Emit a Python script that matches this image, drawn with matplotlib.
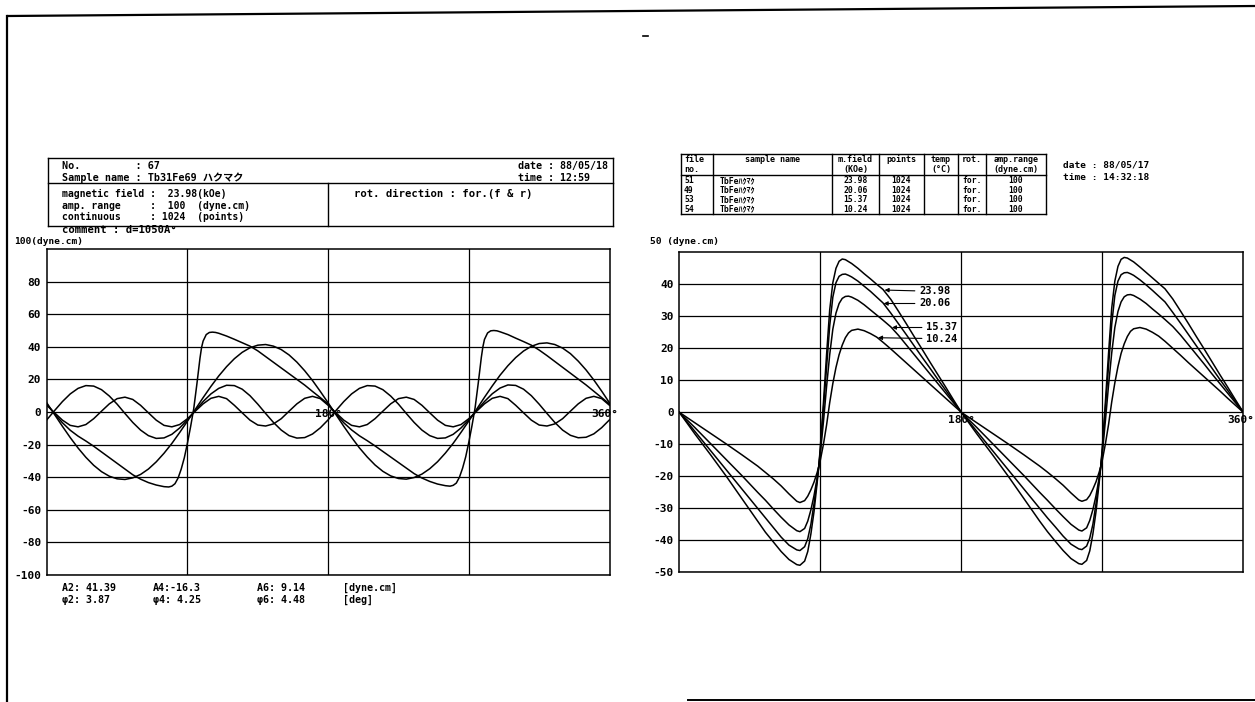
import numpy as np
import matplotlib
matplotlib.use("Agg")
import matplotlib.pyplot as plt
from matplotlib.lines import Line2D

W, H = 1255, 702
plt.rcParams["font.family"] = ["DejaVu Sans Mono", "Noto Sans CJK JP"]
plt.rcParams["font.weight"] = "bold"

# ---------------- left sheet: torque curve and its harmonics (dyne.cm) ----------------
deg5 = np.arange(0, 361, 5)
a2 = [5.6, -1.6, -8.8, -15.7, -22.1, -27.8, -32.7, -36.6, -39.4, -41.0, -41.4, -40.4,
      -38.3, -35.0, -30.6, -25.3, -19.3, -12.6, -5.6, 1.6, 8.8, 15.7, 22.1, 27.8,
      32.7, 36.6, 39.4, 41.0, 41.4, 40.4, 38.3, 35.0, 30.6, 25.3, 19.3, 12.6,
      5.6, -1.6, -8.8, -15.6, -22.0, -27.6, -32.5, -36.4, -39.2, -40.8, -41.2, -40.2,
      -38.1, -34.8, -30.5, -25.2, -19.2, -12.5, -5.5, 1.7, 9.0, 16.0, 22.6, 28.4,
      33.4, 37.4, 40.3, 42.0, 42.4, 41.4, 39.2, 35.8, 31.2, 25.8, 19.6, 12.8, 5.6]
a4 = [-4.8, 0.9, 6.4, 11.1, 14.5, 16.2, 15.9, 13.7, 9.8, 4.8, -0.9, -6.4, -11.1, -14.5,
      -16.2, -15.9, -13.7, -9.8,
      -4.8, 0.9, 6.4, 11.1, 14.5, 16.4, 16.2, 14.0, 10.0, 4.8, -0.9, -6.4, -11.1, -14.5,
      -16.0, -15.7, -13.5, -9.7,
      -4.8, 0.9, 6.4, 11.1, 14.5, 16.2, 15.9, 13.7, 9.8, 4.8, -0.9, -6.4, -11.1, -14.5,
      -16.2, -15.9, -13.7, -9.8,
      -4.8, 0.9, 6.4, 11.2, 14.7, 16.6, 16.3, 14.0, 10.0, 4.8, -0.9, -6.4, -11.1, -14.3,
      -15.8, -15.5, -13.4, -9.6, -4.8]
a6 = [4.1, -0.5, -5.0, -8.2, -9.1, -7.7, -4.1, 0.5, 5.0, 8.2, 9.1, 7.7,
      4.1, -0.5, -5.0, -8.2, -9.1, -7.7, -4.1, 0.5, 5.0, 8.4, 9.6, 8.2,
      4.1, -0.5, -5.0, -8.0, -8.6, -7.3, -4.1, 0.5, 5.0, 8.4, 9.6, 8.2,
      4.1, -0.5, -5.0, -8.2, -9.1, -7.7, -4.1, 0.5, 5.0, 8.2, 9.1, 7.7,
      4.1, -0.5, -5.0, -8.2, -9.1, -7.7, -4.1, 0.5, 5.0, 8.4, 9.6, 8.2,
      4.1, -0.5, -5.0, -8.0, -8.6, -7.3, -4.1, 0.5, 5.0, 8.4, 9.6, 8.2, 4.1]
tot_deg = [0, 5, 10, 15, 20, 25, 30, 35, 40, 45, 50, 55, 60, 65, 70, 75, 78, 80, 82, 84,
           86, 88, 90, 92, 94, 96, 98, 99, 100, 102, 104, 106, 108, 110, 115, 120, 125,
           130, 135, 140, 145, 150, 155, 160, 165, 170, 175, 180,
           185, 190, 195, 200, 205, 210, 215, 220, 225, 230, 235, 240, 245, 250, 255, 258,
           260, 262, 264, 266, 268, 270, 272, 274, 276, 278, 279, 280, 282, 284, 286, 288,
           290, 295, 300, 305, 310, 315, 320, 325, 330, 335, 340, 345, 350, 355, 360]
tot = [4.9, -1.2, -6.6, -11.2, -14.8, -17.8, -21.0, -24.5, -28.0, -31.5, -35.0, -38.5,
       -41.2, -43.3, -44.8, -45.8, -46.0, -45.5, -44.0, -40.5, -35.0, -28.0, -19.0, -9.0,
       2.0, 17.0, 33.0, 39.5, 43.5, 47.5, 48.8, 49.0, 48.8, 48.3, 46.6, 44.6, 42.5, 40.4,
       37.5, 34.0, 30.5, 27.0, 23.5, 20.0, 16.5, 12.6, 8.8, 4.9,
       -1.2, -6.6, -11.0, -14.6, -17.6, -20.8, -24.2, -27.6, -31.0, -34.4, -37.8, -40.5,
       -42.6, -44.2, -45.2, -45.5, -45.0, -43.6, -40.0, -34.5, -27.5, -18.5, -8.5, 2.5,
       17.5, 33.5, 40.0, 44.5, 48.5, 49.8, 50.0, 49.8, 49.2, 47.5, 45.3, 43.2, 41.0, 38.0,
       34.6, 31.0, 27.4, 23.8, 20.2, 16.6, 12.7, 8.8, 4.9]

# ---------------- right sheet: torque curves at four fields ----------------
rdeg_half = [0, 10, 20, 30, 40, 50, 55, 60, 65, 70, 75, 77, 80, 82, 84, 86, 88, 89, 90,
             92, 94, 96, 98, 100, 102, 104, 106, 108, 110, 114, 118, 122, 126, 130, 135,
             140, 145, 150, 155, 160, 165, 170, 175, 180]
rdeg = rdeg_half + [d + 180 for d in rdeg_half[1:]]
fields = ["23.98", "20.06", "15.37", "10.24"]
t2398 = [0, -6.8, -13.3, -20.0, -27.0, -34.0, -37.5, -40.5, -43.5, -46.0, -47.6, -47.8,
         -46.5, -43.5, -38.0, -31.0, -22.0, -17.0, -11.0, 3.0, 18.0, 32.0, 40.5, 45.0,
         47.2, 47.9, 47.7, 47.1, 46.5, 45.0, 43.3, 41.7, 40.0, 38.4, 35.3, 31.5, 27.6,
         23.6, 19.7, 15.7, 11.8, 7.9, 3.9, 0,
         -6.8, -13.3, -20.0, -27.0, -34.0, -37.3, -40.3, -43.2, -45.7, -47.3, -47.5,
         -46.3, -43.3, -38.0, -31.0, -22.0, -17.0, -11.0, 3.5, 18.5, 32.5, 41.0, 45.6,
         47.8, 48.4, 48.2, 47.6, 47.0, 45.4, 43.7, 42.0, 40.3, 38.6, 35.4, 31.6, 27.7,
         23.7, 19.8, 15.8, 11.8, 7.9, 3.9, 0]
t2006 = [0, -6.0, -12.0, -18.0, -24.0, -30.0, -33.0, -36.0, -39.0, -41.5, -43.0, -43.2,
         -42.0, -39.5, -35.0, -28.5, -21.0, -17.0, -12.0, 1.0, 14.0, 27.0, 36.0, 40.5,
         42.5, 43.1, 43.2, 42.8, 42.3, 41.0, 39.4, 37.8, 36.0, 34.2, 31.0, 27.6, 24.2,
         20.7, 17.2, 13.8, 10.3, 6.9, 3.4, 0,
         -6.0, -12.0, -18.0, -24.0, -30.0, -33.0, -35.8, -38.7, -41.2, -42.7, -42.9,
         -41.8, -39.3, -35.0, -28.5, -21.0, -17.0, -12.0, 1.5, 14.5, 27.5, 36.5, 41.0,
         43.0, 43.6, 43.7, 43.3, 42.8, 41.4, 39.8, 38.1, 36.3, 34.5, 31.2, 27.8, 24.3,
         20.8, 17.3, 13.8, 10.3, 6.9, 3.4, 0]
t1537 = [0, -4.8, -9.8, -14.8, -19.8, -25.0, -27.5, -30.2, -32.8, -35.2, -37.0, -37.3,
         -36.3, -34.0, -30.5, -26.0, -20.5, -17.0, -13.0, -3.0, 8.0, 18.0, 26.0, 31.0,
         34.0, 35.6, 36.2, 36.3, 36.0, 35.0, 33.6, 32.0, 30.4, 28.8, 26.7, 24.0, 21.0,
         18.0, 15.0, 12.0, 9.0, 6.0, 3.0, 0,
         -4.8, -9.8, -14.8, -19.8, -25.0, -27.5, -30.1, -32.6, -35.0, -36.8, -37.1,
         -36.1, -33.8, -30.4, -26.0, -20.5, -17.0, -13.0, -2.5, 8.5, 18.5, 26.5, 31.5,
         34.5, 36.1, 36.7, 36.8, 36.5, 35.4, 34.0, 32.3, 30.7, 29.0, 26.8, 24.1, 21.1,
         18.1, 15.1, 12.0, 9.0, 6.0, 3.0, 0]
t1024 = [0, -3.3, -6.6, -9.9, -13.3, -16.8, -18.8, -20.8, -23.0, -25.5, -27.8, -28.2,
         -27.6, -26.2, -24.2, -21.8, -18.8, -17.0, -15.0, -10.0, -4.0, 3.0, 9.0, 14.0,
         18.0, 21.0, 23.3, 24.8, 25.6, 26.0, 25.5, 24.6, 23.5, 21.9, 19.8, 17.6, 15.4,
         13.2, 11.0, 8.8, 6.6, 4.4, 2.2, 0,
         -3.3, -6.6, -9.9, -13.3, -16.8, -18.7, -20.7, -22.8, -25.2, -27.4, -27.8,
         -27.3, -26.0, -24.0, -21.7, -18.7, -17.0, -15.0, -9.8, -3.8, 3.2, 9.2, 14.3,
         18.4, 21.4, 23.7, 25.3, 26.1, 26.5, 26.0, 25.0, 23.8, 22.2, 20.0, 17.8, 15.5,
         13.3, 11.1, 8.9, 6.7, 4.4, 2.2, 0]
curves = [t2398, t2006, t1537, t1024]
label_pts = [(131, 38.2), (130.4, 34.0), (135.7, 26.5), (126.8, 23.3)]
label_txt = [(153, 37.8), (153, 34.0), (157.5, 26.5), (157.5, 23.0)]

# right sheet table rows
t_file = ["51", "49", "53", "54"]
t_name = ["TbFeﾊｸﾏｸ"] * 4
t_pts = ["1024"] * 4
t_rot = ["for."] * 4
t_amp = ["100"] * 4


def P(x, y):
    return x / W, 1 - y / H


def hline(fig, x0, x1, y, lw=1.0):
    fig.add_artist(Line2D([x0 / W, x1 / W], [1 - y / H, 1 - y / H],
                          transform=fig.transFigure, color="k", lw=lw))


def vline(fig, x, y0, y1, lw=1.0):
    fig.add_artist(Line2D([x / W, x / W], [1 - y0 / H, 1 - y1 / H],
                          transform=fig.transFigure, color="k", lw=lw))


def style(ax, ymin, ymax, ystep):
    ax.set_xlim(0, 360); ax.set_ylim(ymin, ymax)
    ax.set_xticks([90, 180, 270]); ax.set_xticklabels([])
    yt = np.arange(ymin, ymax, ystep)
    ax.set_yticks(yt); ax.set_yticklabels([str(int(v)) for v in yt], fontsize=8)
    ax.tick_params(length=0, pad=4)
    ax.grid(True, color="k", lw=0.9)
    for s in ax.spines.values():
        s.set_linewidth(1.1)


fig = plt.figure(figsize=(W / 100, H / 100), dpi=100)

# page frame of the scanned sheet
fig.add_artist(Line2D([8 / W, 1.0], [1 - 16 / H, 1 - 6 / H], transform=fig.transFigure, color="k", lw=1.6))
vline(fig, 7, 16, 702, lw=1.6)
hline(fig, 688, 1255, 700, lw=1.4)
hline(fig, 643, 648, 36, lw=1.2)

# ---- left plot ----
axL = fig.add_axes([46.8 / W, 1 - 575 / H, 562.7 / W, 326 / H])
style(axL, -100, 100, 20)
for y in (a2, a4, a6):
    axL.plot(deg5, y, color="k", lw=1.1)
axL.plot(tot_deg, tot, color="k", lw=1.1)
axL.text(180, -1, "180°", ha="center", va="center", fontsize=8)
axL.text(357, -1, "360°", ha="center", va="center", fontsize=8, clip_on=False)

# left header box
bx0, bx1, by0, by1, bym, bxm = 48, 613, 158, 226, 183, 328
hline(fig, bx0, bx1, by0); hline(fig, bx0, bx1, by1); hline(fig, bx0, bx1, bym)
vline(fig, bx0, by0, by1); vline(fig, bx1, by0, by1); vline(fig, bxm, bym, by1)
fig.text(*P(62, 166), "No.         : 67", fontsize=7.3, va="center")
fig.text(*P(62, 178), "Sample name : Tb31Fe69 ハクマク", fontsize=7.3, va="center")
fig.text(*P(518, 166), "date : 88/05/18", fontsize=7.2, va="center")
fig.text(*P(518, 178), "time : 12:59", fontsize=7.2, va="center")
fs2 = 7.0
fig.text(*P(62, 194), "magnetic field :  23.98(kOe)", fontsize=fs2, va="center")
fig.text(*P(62, 205.5), "amp. range     :  100  (dyne.cm)", fontsize=fs2, va="center")
fig.text(*P(62, 217), "continuous     : 1024  (points)", fontsize=fs2, va="center")
fig.text(*P(354, 194), "rot. direction : for.(f & r)", fontsize=7.6, va="center")
fig.text(*P(62, 230), "comment : d=1050A°", fontsize=7.6, va="center")
fig.text(*P(14, 242), "100(dyne.cm)", fontsize=6.8, va="center")

# harmonic coefficients under the left plot
for x, t1, t2 in [(62, "A2: 41.39", "φ2: 3.87"), (153, "A4:-16.3", "φ4: 4.25"),
                  (257, "A6: 9.14", "φ6: 4.48"), (343, "[dyne.cm]", "[deg]")]:
    fig.text(*P(x, 588), t1, fontsize=7.2, va="center")
    fig.text(*P(x, 600), t2, fontsize=7.2, va="center")

# ---- right plot ----
axR = fig.add_axes([679.3 / W, 1 - 572.3 / H, 564 / W, 320 / H])
style(axR, -50, 50, 10)
for y in curves:
    axR.plot(rdeg, y, color="k", lw=1.1)
for f, pt, tp in zip(fields, label_pts, label_txt):
    axR.annotate(f, xy=pt, xytext=tp, fontsize=7.5, ha="left", va="center",
                 arrowprops=dict(arrowstyle="-|>", lw=0.8, color="k", shrinkA=1, shrinkB=0,
                                 mutation_scale=6))
axR.text(180, -0.8, "180°", ha="center", va="top", fontsize=8)
axR.text(358.5, -0.8, "360°", ha="center", va="top", fontsize=8, clip_on=False)
fig.text(*P(650, 242), "50 (dyne.cm)", fontsize=6.8, va="center")

# right header table
cols = [681, 713, 832, 879, 924, 958, 986, 1046]
ty0, tym, ty1 = 154, 175, 214
hline(fig, cols[0], cols[-1], ty0); hline(fig, cols[0], cols[-1], tym); hline(fig, cols[0], cols[-1], ty1)
for c in cols:
    vline(fig, c, ty0, ty1)
tfs = 6.0
mid = [(a + b) / 2 for a, b in zip(cols[:-1], cols[1:])]
fig.text(*P(684, 160), "file", fontsize=tfs, va="center")
fig.text(*P(684, 169.5), "no.", fontsize=tfs, va="center")
fig.text(*P(mid[1], 160), "sample name", fontsize=tfs, va="center", ha="center")
fig.text(*P(mid[2], 160), "m.field", fontsize=tfs, va="center", ha="center")
fig.text(*P(mid[2], 169.5), "(KOe)", fontsize=tfs, va="center", ha="center")
fig.text(*P(mid[3], 160), "points", fontsize=tfs, va="center", ha="center")
fig.text(*P(mid[4], 160), "temp", fontsize=tfs, va="center", ha="center")
fig.text(*P(mid[4], 169.5), "(°C)", fontsize=tfs, va="center", ha="center")
fig.text(*P(mid[5], 160), "rot.", fontsize=tfs, va="center", ha="center")
fig.text(*P(mid[6], 160), "amp.range", fontsize=tfs, va="center", ha="center")
fig.text(*P(mid[6], 169.5), "(dyne.cm)", fontsize=tfs, va="center", ha="center")
for i in range(4):
    yy = 180.5 + 9.5 * i
    fig.text(*P(684, yy), t_file[i], fontsize=5.8, va="center")
    fig.text(*P(720, yy), t_name[i], fontsize=5.8, va="center")
    fig.text(*P(mid[2], yy), fields[i], fontsize=5.8, va="center", ha="center")
    fig.text(*P(mid[3], yy), t_pts[i], fontsize=5.8, va="center", ha="center")
    fig.text(*P(962, yy), t_rot[i], fontsize=5.8, va="center")
    fig.text(*P(mid[6], yy), t_amp[i], fontsize=5.8, va="center", ha="center")
fig.text(*P(1063, 165.5), "date : 88/05/17", fontsize=6.8, va="center")
fig.text(*P(1063, 177), "time : 14:32:18", fontsize=6.8, va="center")

fig.savefig("out.png", dpi=100)
